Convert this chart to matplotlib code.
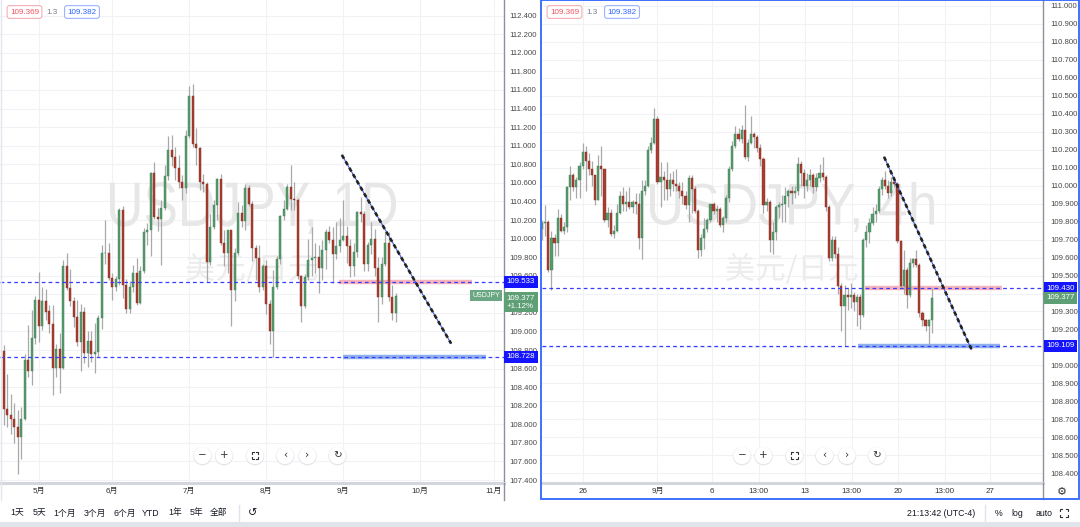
import matplotlib
matplotlib.use("Agg")
import matplotlib.pyplot as plt
import numpy as np
from matplotlib.font_manager import FontProperties
from matplotlib.patches import PathPatch, Circle, Rectangle
from matplotlib.textpath import TextPath
from matplotlib.transforms import Affine2D, IdentityTransform
from matplotlib.lines import Line2D

plt.rcParams["font.family"] = ["Liberation Sans", "Noto Sans CJK SC", "DejaVu Sans"]

# ---- USDJPY daily candles (bar 0 = 19 Apr, last = 22 Sep) ----
daily_open = [108.79, 108.16, 108.10, 108.06, 107.97, 107.86, 108.06, 108.69, 108.57, 108.93,
              109.34, 109.06, 109.33, 109.22, 109.08, 108.61, 108.81, 108.61, 109.70, 109.47,
              109.33, 109.16, 108.89, 109.21, 108.77, 108.90, 108.76, 108.78, 109.14, 109.84,
              109.85, 109.58, 109.48, 109.56, 110.31, 109.50, 109.24, 109.48, 109.63, 109.31,
              109.65, 110.07, 110.09, 110.71, 110.23, 110.21, 110.33, 110.67, 110.95, 110.88,
              110.76, 110.61, 110.54, 111.10, 111.53, 111.02, 110.98, 110.61, 110.59, 109.75,
              110.13, 110.36, 110.64, 109.95, 109.84, 110.09, 109.45, 109.85, 110.28, 110.19,
              110.54, 110.37, 109.90, 109.79, 109.48, 109.71, 109.30, 109.01, 109.48, 109.78,
              110.24, 110.32, 110.56, 110.43, 110.42, 109.60, 109.27, 109.59, 109.77, 109.79,
              109.80, 109.68, 109.88, 110.07, 109.98, 109.83, 109.92, 109.99, 110.03, 109.92,
              109.70, 109.86, 110.29, 110.27, 109.73, 109.93, 110.00, 109.68, 109.37, 109.73,
              109.95, 109.37, 109.20]
daily_high = [108.85, 108.54, 108.33, 108.23, 108.15, 108.19, 108.76, 109.07, 109.23, 109.38,
              109.64, 109.48, 109.46, 109.28, 109.28, 108.87, 108.98, 109.77, 109.85, 109.67,
              109.37, 109.34, 109.30, 109.26, 109.00, 109.00, 109.09, 109.18, 109.93, 110.20,
              109.95, 109.63, 109.60, 110.33, 110.35, 109.56, 109.54, 109.72, 109.79, 109.70,
              110.11, 110.17, 110.72, 110.82, 110.33, 110.42, 110.79, 111.10, 111.12, 110.99,
              110.90, 110.68, 111.17, 111.64, 111.66, 111.19, 110.99, 110.70, 110.61, 110.26,
              110.42, 110.65, 110.69, 110.09, 110.09, 110.09, 109.90, 110.39, 110.36, 110.59,
              110.58, 110.40, 109.93, 109.93, 109.73, 109.77, 109.34, 109.66, 109.81, 110.25,
              110.41, 110.59, 110.79, 110.61, 110.44, 109.61, 109.62, 110.00, 110.12, 109.95,
              109.93, 109.98, 110.10, 110.14, 110.13, 110.18, 110.22, 110.42, 110.14, 110.00,
              109.95, 110.30, 110.45, 110.30, 109.96, 110.18, 110.10, 109.80, 109.80, 110.07,
              110.07, 109.50, 109.41]
daily_low = [107.99, 107.97, 107.90, 107.80, 107.47, 107.63, 108.05, 108.51, 108.42, 108.87,
             108.89, 109.02, 109.12, 108.98, 108.32, 108.51, 108.34, 108.60, 109.45, 109.27,
             109.05, 108.84, 108.57, 108.66, 108.62, 108.67, 108.55, 108.73, 109.03, 109.73,
             109.55, 109.34, 109.44, 109.50, 109.36, 109.20, 109.20, 109.42, 109.29, 109.30,
             109.63, 109.93, 109.81, 110.21, 110.08, 109.72, 110.31, 110.63, 110.78, 110.63,
             110.54, 110.42, 110.49, 111.08, 110.99, 110.79, 110.52, 110.50, 109.53, 109.72,
             110.10, 110.20, 109.93, 109.70, 109.63, 109.06, 109.33, 109.82, 110.13, 110.09,
             110.35, 109.76, 109.55, 109.43, 109.45, 109.19, 108.87, 108.73, 109.46, 109.73,
             110.20, 110.31, 110.31, 110.31, 109.56, 109.10, 109.25, 109.55, 109.60, 109.63,
             109.41, 109.55, 109.67, 109.95, 109.52, 109.78, 109.86, 109.97, 109.74, 109.59,
             109.60, 109.80, 110.18, 109.65, 109.65, 109.83, 109.60, 109.10, 109.30, 109.70,
             109.33, 109.12, 109.10]
daily_close = [108.16, 108.10, 108.06, 107.97, 107.86, 108.06, 108.69, 108.57, 108.93, 109.34,
               109.06, 109.33, 109.21, 109.08, 108.61, 108.81, 108.61, 109.70, 109.47, 109.33,
               109.16, 108.89, 109.21, 108.77, 108.90, 108.76, 108.78, 109.14, 109.84, 109.85,
               109.58, 109.48, 109.56, 110.31, 109.50, 109.24, 109.48, 109.63, 109.31, 109.65,
               110.07, 110.09, 110.71, 110.23, 110.21, 110.33, 110.67, 110.95, 110.88, 110.76,
               110.61, 110.54, 111.10, 111.53, 111.02, 110.98, 110.61, 110.59, 109.75, 110.13,
               110.36, 110.64, 109.95, 109.84, 110.09, 109.45, 109.85, 110.28, 110.19, 110.54,
               110.37, 109.90, 109.79, 109.48, 109.71, 109.30, 109.01, 109.48, 109.78, 110.24,
               110.32, 110.56, 110.43, 110.42, 109.60, 109.27, 109.59, 109.77, 109.79, 109.80,
               109.68, 109.88, 110.07, 109.98, 109.83, 109.92, 109.99, 110.03, 109.92, 109.70,
               109.86, 110.29, 110.27, 109.73, 109.93, 110.00, 109.68, 109.37, 109.73, 109.95,
               109.37, 109.20, 109.377]
month_ticks = [10, 31, 53, 75, 97, 119, 140]
month_labels = ["5月", "6月", "7月", "8月", "9月", "10月", "11月"]

# ---- USDJPY 4h candles (bar 0 = 25 Aug) ----
h4_open = [109.76, 109.79, 109.80, 109.53, 109.71, 109.68, 109.82, 109.75, 109.77, 109.99,
           110.06, 109.99, 110.03, 110.11, 110.19, 110.14, 110.09, 110.06, 109.92, 110.11,
           110.09, 109.81, 109.85, 109.73, 109.75, 109.85, 109.94, 109.90, 109.91, 109.88,
           109.91, 109.90, 109.71, 109.97, 110.00, 110.20, 110.24, 110.37, 110.02, 110.05,
           110.03, 109.98, 110.03, 110.01, 110.00, 109.97, 109.94, 109.89, 110.04, 109.98,
           109.86, 109.64, 109.71, 109.76, 109.81, 109.90, 109.86, 109.87, 109.78, 109.82,
           109.93, 110.09, 110.22, 110.29, 110.26, 110.31, 110.16, 110.24, 110.29, 110.27,
           110.21, 110.15, 109.89, 109.91, 109.70, 109.74, 109.88, 109.89, 109.90, 109.94,
           109.97, 109.96, 109.97, 110.12, 110.07, 110.00, 110.03, 110.06, 109.99, 110.04,
           110.07, 110.05, 109.88, 109.60, 109.70, 109.62, 109.44, 109.33, 109.39, 109.38,
           109.39, 109.35, 109.38, 109.28, 109.70, 109.74, 109.79, 109.84, 109.86, 109.98,
           110.03, 110.00, 109.96, 110.02, 110.01, 109.69, 109.44, 109.53, 109.39, 109.57,
           109.59, 109.56, 109.29, 109.25, 109.22, 109.25]
h4_high = [109.81, 109.89, 109.81, 109.75, 109.73, 109.87, 109.84, 109.80, 110.00, 110.11,
           110.07, 110.05, 110.13, 110.24, 110.22, 110.18, 110.14, 110.06, 110.17, 110.22,
           110.09, 109.88, 109.87, 109.78, 109.90, 109.97, 109.99, 109.97, 109.99, 109.92,
           109.96, 109.96, 110.03, 110.03, 110.22, 110.27, 110.43, 110.39, 110.13, 110.08,
           110.13, 110.07, 110.08, 110.09, 110.02, 110.02, 109.97, 110.06, 110.06, 110.00,
           109.87, 109.73, 109.82, 109.82, 109.90, 109.91, 109.89, 109.88, 109.83, 109.95,
           110.11, 110.25, 110.33, 110.32, 110.34, 110.45, 110.26, 110.39, 110.30, 110.28,
           110.23, 110.16, 109.93, 109.92, 109.80, 109.89, 109.91, 109.95, 109.99, 109.98,
           110.00, 110.00, 110.16, 110.14, 110.09, 110.07, 110.09, 110.07, 110.07, 110.12,
           110.16, 110.06, 109.89, 109.72, 109.72, 109.66, 109.46, 109.45, 109.43, 109.46,
           109.41, 109.40, 109.40, 109.71, 109.78, 109.82, 109.88, 109.90, 110.00, 110.05,
           110.08, 110.03, 110.05, 110.05, 110.02, 109.70, 109.64, 109.55, 109.60, 109.60,
           109.64, 109.57, 109.30, 109.26, 109.26, 109.43]
h4_low = [109.70, 109.72, 109.52, 109.42, 109.61, 109.61, 109.74, 109.73, 109.74, 109.92,
          109.97, 109.93, 109.93, 110.09, 109.97, 110.06, 110.00, 109.89, 109.92, 109.94,
          109.80, 109.77, 109.72, 109.71, 109.74, 109.84, 109.86, 109.86, 109.87, 109.85,
          109.84, 109.65, 109.59, 109.95, 109.99, 110.18, 110.23, 110.01, 109.88, 109.92,
          109.92, 109.94, 109.97, 109.97, 109.93, 109.90, 109.87, 109.80, 109.85, 109.85,
          109.60, 109.61, 109.65, 109.74, 109.80, 109.84, 109.80, 109.77, 109.74, 109.80,
          109.91, 110.08, 110.21, 110.25, 110.24, 110.15, 110.14, 110.23, 110.21, 110.19,
          110.11, 109.85, 109.86, 109.63, 109.62, 109.70, 109.82, 109.80, 109.80, 109.88,
          109.90, 109.93, 109.95, 110.00, 109.93, 109.97, 110.00, 109.96, 109.97, 110.02,
          110.03, 109.86, 109.58, 109.58, 109.60, 109.40, 109.19, 109.11, 109.31, 109.32,
          109.30, 109.22, 109.20, 109.27, 109.66, 109.68, 109.78, 109.80, 109.85, 109.95,
          109.98, 109.93, 109.94, 109.99, 109.68, 109.43, 109.40, 109.32, 109.38, 109.55,
          109.55, 109.27, 109.22, 109.19, 109.12, 109.18]
h4_close = [109.79, 109.80, 109.53, 109.71, 109.68, 109.82, 109.75, 109.77, 109.99, 110.06,
            109.99, 110.03, 110.11, 110.19, 110.14, 110.09, 110.06, 109.92, 110.11, 110.09,
            109.81, 109.85, 109.73, 109.75, 109.85, 109.94, 109.90, 109.91, 109.88, 109.91,
            109.90, 109.71, 109.97, 110.00, 110.20, 110.24, 110.37, 110.02, 110.05, 110.03,
            109.98, 110.03, 110.01, 110.00, 109.97, 109.94, 109.89, 110.04, 109.98, 109.86,
            109.64, 109.71, 109.76, 109.81, 109.90, 109.86, 109.87, 109.78, 109.82, 109.93,
            110.09, 110.22, 110.29, 110.26, 110.31, 110.16, 110.24, 110.29, 110.27, 110.21,
            110.15, 109.89, 109.91, 109.70, 109.74, 109.88, 109.89, 109.90, 109.94, 109.97,
            109.96, 109.97, 110.12, 110.07, 110.00, 110.03, 110.06, 109.99, 110.04, 110.07,
            110.05, 109.88, 109.60, 109.70, 109.62, 109.44, 109.33, 109.39, 109.38, 109.39,
            109.35, 109.38, 109.28, 109.70, 109.74, 109.79, 109.84, 109.86, 109.98, 110.03,
            110.00, 109.96, 110.02, 110.01, 109.69, 109.44, 109.53, 109.39, 109.57, 109.59,
            109.56, 109.29, 109.25, 109.22, 109.25, 109.377]
h4_ticks = [13, 37, 54.4, 69.5, 84.2, 99.3, 114.2, 129.1, 143.8]
h4_labels = ["26", "9月", "6", "13:00", "13", "13:00", "20", "13:00", "27"]

# drawings on the charts (bar index, price)
daily_levels = [109.533, 108.728]
daily_trend = ([96.6, 127.8], [110.90, 108.87])
daily_pink = ([95.8, 133.7], 109.533)
daily_blue = ([96.8, 137.9], 108.728)
h4_levels = [109.430, 109.109]
h4_trend = ([109.7, 137.7], [110.16, 109.09])
h4_pink = ([103.7, 147.4], 109.430)
h4_blue = ([101.3, 146.8], 109.109)
last_price = 109.377

UP = "#559a6c"
DOWN = "#a83e2f"
WICK = "#a9a9a9"
LEVEL = "#3a3aff"
W, H = 1080, 527

fig = plt.figure(figsize=(W / 100, H / 100), dpi=100)
fig.patch.set_facecolor("white")


def fig_text(x, y, s, **kw):
    fig.text(x / W, 1 - y / H, s, **kw)


def fig_line(xs, ys, **kw):
    fig.add_artist(Line2D([x / W for x in xs], [1 - y / H for y in ys],
                          transform=fig.transFigure, **kw))


def candles(ax, o, h, l, c, width):
    o, h, l, c = map(np.asarray, (o, h, l, c))
    idx = np.arange(len(o))
    up = c >= o
    ax.vlines(idx, l, h, color=WICK, lw=0.9, zorder=3)
    body = np.maximum(np.abs(c - o), 0.006)
    ax.bar(idx, body, bottom=np.minimum(o, c), width=width,
           color=np.where(up, UP, DOWN), edgecolor=np.where(up, "#3f7f55", "#8a2f22"),
           lw=0.3, zorder=4)


def watermark(ax, text, family, x0, y0, x1, y1, color):
    tp = TextPath((0, 0), text, size=100, prop=FontProperties(family=family))
    ext = tp.get_extents()
    tr = (Affine2D().translate(-ext.x0, -ext.y0)
          .scale((x1 - x0) / ext.width, (y1 - y0) / ext.height)
          .translate(x0, H - y1))
    ax.add_patch(PathPatch(tp, transform=tr, fc=color, ec="none", zorder=1))


def style_axes(ax, xlim, ylim, yticks, ypad, covered):
    ax.set_xlim(*xlim)
    ax.set_ylim(*ylim)
    ax.yaxis.tick_right()
    ax.set_yticks(yticks)
    # labels hidden behind the price boxes are left blank, as on the chart
    ax.set_yticklabels(["" if any(abs(v - cv) < 1e-6 for cv in covered) else "%.3f" % v
                        for v in yticks])
    ax.tick_params(axis="y", length=0, pad=ypad, labelsize=5.6, labelcolor="#4a4a4a")
    ax.tick_params(axis="x", length=0, pad=3.5, labelsize=5.8, labelcolor="#333333")
    ax.grid(True, color="#f0f2f6", lw=0.8, zorder=0)
    ax.set_axisbelow(True)
    for side in ("top", "left"):
        ax.spines[side].set_visible(False)
    ax.spines["right"].set_color("#8e9199")
    ax.spines["right"].set_linewidth(1.0)
    ax.spines["bottom"].set_color("#d3d6dc")
    ax.spines["bottom"].set_linewidth(2.2)


def price_box(ax, price, text, fc, dy=0.0):
    ax.annotate(text, xy=(1, price), xycoords=ax.get_yaxis_transform(),
                xytext=(2.2, dy), textcoords="offset points", ha="left", va="center",
                fontsize=5.7, color="white", annotation_clip=False, zorder=30,
                bbox=dict(boxstyle="square,pad=0.32", fc=fc, ec="none"))


def drawings(ax, levels, trend, pink, blue):
    for lv in levels:
        ax.axhline(lv, color=LEVEL, lw=0.9, ls=(0, (3, 2.5)), zorder=5)
    ax.plot(pink[0], [pink[1]] * 2, color="#f6b3b9", lw=3.2, solid_capstyle="butt", zorder=2)
    ax.plot(blue[0], [blue[1]] * 2, color="#8fb0ee", lw=3.2, solid_capstyle="butt", zorder=2)
    ax.plot(trend[0], trend[1], color="#3b5bdb", lw=0.8, zorder=6)
    ax.plot(trend[0], trend[1], color="#222222", lw=1.9, ls=(0, (1.6, 1.2)), zorder=7)


# ---------------- left: daily ----------------
axL = fig.add_axes([0, 1 - 483 / H, 503.8 / W, 483 / H])
style_axes(axL, (-1.086, 142.86), (107.368, 112.569),
           np.round(np.arange(107.4, 112.41, 0.2), 3), 4.2, [109.4])
axL.set_xticks(month_ticks)
axL.set_xticklabels(month_labels)
watermark(axL, "USDJPY, 1D", "Liberation Sans", 110, 182, 396, 234, "#e7e7e7")
watermark(axL, "美元/日元", "Noto Sans CJK SC", 186, 253, 317, 284, "#ececec")
candles(axL, daily_open, daily_high, daily_low, daily_close, 0.62)
drawings(axL, daily_levels, daily_trend, daily_pink, daily_blue)
for lv in daily_levels:
    price_box(axL, lv, "%.3f" % lv, "#1414ff")
price_box(axL, last_price, "%.3f\n+1.12%%" % last_price, "#5f9f76", dy=-4.2)
axL.annotate("USDJPY", xy=(1, last_price), xycoords=axL.get_yaxis_transform(),
             xytext=(-2.6, 0.8), textcoords="offset points", ha="right", va="center",
             fontsize=5.0, color="white", annotation_clip=False, zorder=30,
             bbox=dict(boxstyle="square,pad=0.3", fc="#6aa782", ec="none"))

# ---------------- right: 4h ----------------
axR = fig.add_axes([541.7 / W, 1 - 483.3 / H, (1043.4 - 541.7) / W, 483.3 / H])
style_axes(axR, (-0.128, 160.8), (108.344, 111.033),
           np.round(np.arange(108.4, 111.01, 0.1), 3), 4.8, [109.4, 109.1])
axR.set_xticks(h4_ticks)
axR.set_xticklabels(h4_labels)
watermark(axR, "USDJPY, 4h", "Liberation Sans", 650, 182, 934, 232, "#e7e7e7")
watermark(axR, "美元/日元", "Noto Sans CJK SC", 726, 253, 857, 284, "#ececec")
candles(axR, h4_open, h4_high, h4_low, h4_close, 0.7)
drawings(axR, h4_levels, h4_trend, h4_pink, h4_blue)
for lv in h4_levels:
    price_box(axR, lv, "%.3f" % lv, "#1414ff")
price_box(axR, last_price, "%.3f" % last_price, "#5f9f76")

# ---------------- chrome ----------------
fig_line([503.8, 503.8], [483, 500], color="#8e9199", lw=1.0)
fig_line([1043.4, 1043.4], [483, 499], color="#8e9199", lw=1.0)
fig.add_artist(Rectangle((541, H - 499), 538, 499, transform=IdentityTransform(),
                         fill=False, ec="#2f66ff", lw=1.3, zorder=10))
fig.add_artist(Rectangle((0, 0), W, 5, transform=IdentityTransform(),
                         fc="#e1e4ea", ec="none", zorder=10))
fig_line([0.5, 0.5], [0, 500], color="#e3e6ec", lw=1.0)

# legend chips top-left of each panel
for x0 in (0, 540):
    fig_text(x0 + 24.5, 12, "109.369", fontsize=5.8, color="#f0535f", ha="center", va="center",
             bbox=dict(boxstyle="round,pad=0.35,rounding_size=0.3", fc="white", ec="#f5a3aa", lw=0.7))
    fig_text(x0 + 52.5, 12, "1.3", fontsize=5.8, color="#787b86", ha="center", va="center")
    fig_text(x0 + 82, 12, "109.382", fontsize=5.8, color="#2962ff", ha="center", va="center",
             bbox=dict(boxstyle="round,pad=0.35,rounding_size=0.3", fc="white", ec="#8ea9ff", lw=0.7))


def fullscreen_icon(cx, cy, s=3.2, color="#333333"):
    for sx in (-1, 1):
        for sy in (-1, 1):
            fig_line([cx + sx * s, cx + sx * s, cx + sx * (s - 1.8)],
                     [cy + sy * (s - 1.8), cy + sy * s, cy + sy * s],
                     color=color, lw=0.8, zorder=13)


# floating zoom buttons
for x0 in (0, 539.5):
    for dx, glyph in zip((202.5, 224.0, 255.0, 285.0, 307.5, 337.5),
                         ("−", "+", None, "‹", "›", "↻")):
        cx, cy = x0 + dx, 455.5
        fig.add_artist(Circle((cx, H - cy - 0.6), 9.3, transform=IdentityTransform(),
                              fc="#e4e6ea", ec="none", zorder=11))
        fig.add_artist(Circle((cx, H - cy), 8.6, transform=IdentityTransform(),
                              fc="white", ec="none", zorder=12))
        if glyph is None:
            fullscreen_icon(cx, cy)
        else:
            fig_text(cx, cy - 0.5, glyph, fontsize=7.5, color="#333333", ha="center",
                     va="center", family="DejaVu Sans", zorder=13)

# bottom toolbar
for x, s in zip((17, 39, 65, 95, 125, 151, 175, 196, 219),
                ("1天", "5天", "1个月", "3个月", "6个月", "YTD", "1年", "5年", "全部")):
    fig_text(x, 513, s, fontsize=6.3, color="#131722", ha="center", va="center")
fig_line([239, 239], [505, 521], color="#e0e3eb", lw=1.0)
fig_text(253, 513, "↺", fontsize=8, color="#131722", ha="center", va="center", family="DejaVu Sans")
fig_text(941, 513, "21:13:42 (UTC-4)", fontsize=6.3, color="#131722", ha="center", va="center")
fig_line([985, 985], [505, 521], color="#e0e3eb", lw=1.0)
fig_text(999, 513, "%", fontsize=6.3, color="#131722", ha="center", va="center")
fig_text(1017, 513, "log", fontsize=6.3, color="#131722", ha="center", va="center")
fig_text(1044, 513, "auto", fontsize=6.3, color="#131722", ha="center", va="center")
fullscreen_icon(1064, 513, s=4.0)
fig_text(1062, 492, "⚙", fontsize=8, color="#333333", ha="center", va="center", family="DejaVu Sans")

fig.savefig("out.png", dpi=100, facecolor="white")
